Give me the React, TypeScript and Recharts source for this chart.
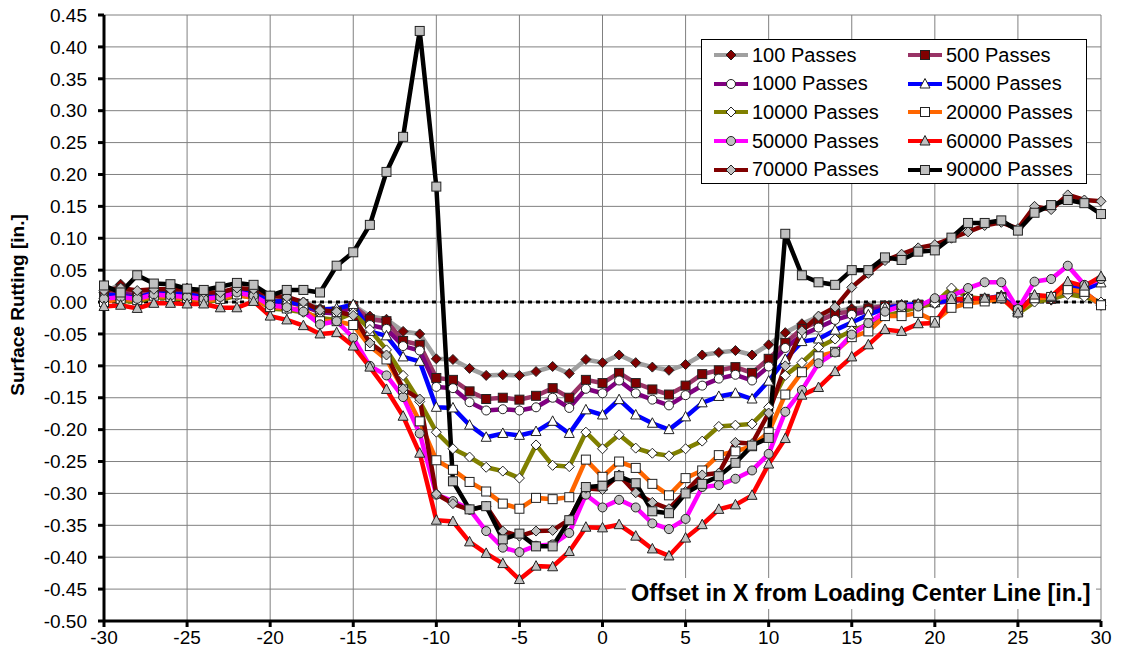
import { LineChart, Line, XAxis, YAxis, CartesianGrid, ReferenceLine } from 'recharts';

// Offset positions along X [in.]
const offsets = [
  -30, -29, -28, -27, -26, -25, -24, -23, -22, -21, -20, -19, -18, -17, -16,
  -15, -14, -13, -12, -11, -10, -9, -8, -7, -6, -5, -4, -3, -2, -1,
  0, 1, 2, 3, 4, 5, 6, 7, 8, 9, 10, 11, 12, 13, 14,
  15, 16, 17, 18, 19, 20, 21, 22, 23, 24, 25, 26, 27, 28, 29, 30,
];

// Surface rutting [in.] per pass count
const passes100 = [
  0.015, 0.028, 0.012, 0.02, 0.016, 0.022, 0.012, 0.014, 0.022, 0.015, 0.002, 0.005, 0.0, -0.01, -0.012,
  -0.005, -0.022, -0.027, -0.046, -0.05, -0.089, -0.09, -0.104, -0.115, -0.114, -0.115, -0.109, -0.101, -0.112, -0.09,
  -0.095, -0.083, -0.095, -0.102, -0.107, -0.098, -0.083, -0.079, -0.076, -0.083, -0.067, -0.048, -0.034, -0.023, -0.015,
  -0.01, -0.008, -0.005, -0.004, -0.003, 0.0, 0.002, 0.004, 0.004, 0.006, -0.012, 0.004, 0.003, 0.014, 0.012, -0.005,
];
const passes500 = [
  0.01, 0.02, 0.01, 0.015, 0.012, 0.018, 0.01, 0.012, 0.02, 0.013, 0.0, 0.003, -0.003, -0.013, -0.015,
  -0.006, -0.027, -0.03, -0.061, -0.067, -0.119, -0.122, -0.14, -0.152, -0.15, -0.153, -0.147, -0.135, -0.15, -0.122,
  -0.127, -0.111, -0.127, -0.137, -0.145, -0.131, -0.113, -0.107, -0.102, -0.111, -0.089, -0.064, -0.042, -0.03, -0.018,
  -0.015, -0.01, -0.006, -0.006, -0.004, 0.0, 0.003, 0.005, 0.005, 0.008, -0.013, 0.006, 0.005, 0.018, 0.014, -0.003,
];
const passes1000 = [
  0.008, 0.015, 0.008, 0.012, 0.01, 0.015, 0.008, 0.01, 0.018, 0.01, -0.002, 0.0, -0.006, -0.016, -0.018,
  -0.008, -0.036, -0.042, -0.069, -0.076, -0.133, -0.135, -0.157, -0.17, -0.168, -0.17, -0.165, -0.15, -0.166, -0.136,
  -0.143, -0.123, -0.143, -0.153, -0.162, -0.146, -0.131, -0.12, -0.114, -0.123, -0.101, -0.072, -0.052, -0.04, -0.028,
  -0.02, -0.014, -0.008, -0.008, -0.006, -0.002, 0.002, 0.004, 0.004, 0.007, -0.014, 0.006, 0.006, 0.02, 0.016, -0.005,
];
const passes5000 = [
  0.012, 0.01, 0.006, 0.015, 0.014, 0.012, 0.008, 0.01, 0.02, 0.016, 0.0, 0.002, -0.005, -0.012, -0.01,
  -0.004, -0.046, -0.053, -0.086, -0.093, -0.165, -0.166, -0.193, -0.212, -0.206, -0.209, -0.203, -0.187, -0.206, -0.169,
  -0.177, -0.153, -0.177, -0.19, -0.2, -0.18, -0.158, -0.148, -0.143, -0.152, -0.124, -0.09, -0.062, -0.058, -0.044,
  -0.032, -0.02, -0.01, -0.005, -0.003, -0.001, 0.004, 0.006, 0.005, 0.01, -0.015, 0.01, 0.008, 0.025, 0.02, 0.03,
];
const passes10000 = [
  0.005, 0.002, 0.0, 0.008, 0.005, 0.005, 0.0, 0.003, 0.01, 0.008, -0.01, -0.012, -0.016, -0.025, -0.028,
  -0.017, -0.043, -0.075, -0.115, -0.156, -0.204, -0.23, -0.243, -0.259, -0.265, -0.276, -0.224, -0.256, -0.258, -0.204,
  -0.23, -0.208, -0.229, -0.237, -0.241, -0.23, -0.218, -0.195, -0.193, -0.191, -0.165, -0.115, -0.095, -0.071, -0.058,
  -0.045, -0.035, -0.022, -0.015, -0.008, -0.002, 0.022, 0.008, 0.005, 0.008, -0.018, 0.0, 0.005, 0.012, 0.008, 0.0,
];
const passes20000 = [
  0.0, 0.005, 0.003, 0.01, 0.008, 0.006, 0.002, 0.005, 0.012, 0.006, -0.008, -0.01, -0.012, -0.03, -0.03,
  -0.036, -0.069, -0.09, -0.137, -0.187, -0.248, -0.263, -0.282, -0.297, -0.316, -0.324, -0.307, -0.309, -0.306, -0.247,
  -0.274, -0.25, -0.26, -0.285, -0.303, -0.276, -0.264, -0.24, -0.234, -0.226, -0.204, -0.145, -0.11, -0.085, -0.078,
  -0.055, -0.046, -0.022, -0.022, -0.017, -0.03, -0.009, -0.002, 0.001, 0.006, -0.015, 0.006, 0.008, 0.02, 0.016, -0.005,
];
const passes50000 = [
  0.005, 0.008, 0.005, 0.012, 0.01, 0.008, 0.005, 0.008, 0.015, 0.01, -0.005, -0.008, -0.015, -0.035, -0.03,
  -0.056, -0.1, -0.115, -0.149, -0.206, -0.302, -0.312, -0.325, -0.359, -0.385, -0.392, -0.382, -0.38, -0.362, -0.302,
  -0.322, -0.31, -0.322, -0.347, -0.356, -0.34, -0.29, -0.287, -0.277, -0.264, -0.238, -0.172, -0.138, -0.096, -0.079,
  -0.051, -0.033, -0.015, -0.006, -0.007, 0.006, 0.009, 0.022, 0.031, 0.031, -0.011, 0.032, 0.036, 0.057, 0.027, 0.036,
];
const passes60000 = [
  -0.007, -0.005, -0.01, -0.002, -0.002, -0.003, -0.003, -0.009, -0.009, 0.001, -0.022, -0.028, -0.037, -0.05, -0.048,
  -0.069, -0.102, -0.137, -0.179, -0.237, -0.342, -0.344, -0.376, -0.394, -0.41, -0.435, -0.414, -0.415, -0.391, -0.353,
  -0.354, -0.349, -0.367, -0.387, -0.398, -0.37, -0.349, -0.325, -0.318, -0.303, -0.254, -0.214, -0.146, -0.134, -0.109,
  -0.086, -0.067, -0.043, -0.046, -0.034, -0.033, 0.004, 0.005, 0.006, 0.008, -0.017, 0.011, 0.009, 0.032, 0.025, 0.04,
];
const passes70000 = [
  0.018, 0.022, 0.018, 0.02, 0.02, 0.02, 0.015, 0.015, 0.022, 0.02, 0.01, 0.008, 0.0, -0.013, -0.015,
  -0.021, -0.064, -0.083, -0.136, -0.152, -0.301, -0.316, -0.326, -0.32, -0.359, -0.367, -0.359, -0.358, -0.341, -0.292,
  -0.294, -0.271, -0.299, -0.314, -0.324, -0.297, -0.271, -0.268, -0.22, -0.222, -0.174, -0.1, -0.045, -0.022, -0.008,
  0.023, 0.045, 0.065, 0.075, 0.085, 0.09, 0.1, 0.11, 0.12, 0.125, 0.115, 0.15, 0.145, 0.168, 0.16, 0.158,
];
const passes90000 = [
  0.026, 0.015, 0.042, 0.029, 0.028, 0.021, 0.019, 0.024, 0.03, 0.027, 0.01, 0.019, 0.019, 0.015, 0.057,
  0.078, 0.121, 0.204, 0.259, 0.425, 0.181, -0.281, -0.325, -0.32, -0.372, -0.363, -0.383, -0.383, -0.342, -0.29,
  -0.288, -0.273, -0.284, -0.328, -0.331, -0.3, -0.285, -0.273, -0.252, -0.225, -0.213, 0.107, 0.042, 0.031, 0.027,
  0.05, 0.05, 0.07, 0.066, 0.079, 0.081, 0.101, 0.124, 0.124, 0.128, 0.112, 0.14, 0.152, 0.16, 0.155, 0.138,
];

const xTicks = [-30, -25, -20, -15, -10, -5, 0, 5, 10, 15, 20, 25, 30];
const yTicks = [
  -0.5, -0.45, -0.4, -0.35, -0.3, -0.25, -0.2, -0.15, -0.1, -0.05,
  0, 0.05, 0.1, 0.15, 0.2, 0.25, 0.3, 0.35, 0.4, 0.45,
];

type Shape = 'diamond' | 'square' | 'circle' | 'triangle';

const series: { key: string; name: string; values: number[]; color: string; shape: Shape; fill: string }[] = [
  { key: 'p100', name: '100 Passes', values: passes100, color: '#A0A0A0', shape: 'diamond', fill: '#800000' },
  { key: 'p500', name: '500 Passes', values: passes500, color: '#993366', shape: 'square', fill: '#800000' },
  { key: 'p1000', name: '1000 Passes', values: passes1000, color: '#800080', shape: 'circle', fill: '#FFFFFF' },
  { key: 'p5000', name: '5000 Passes', values: passes5000, color: '#0000FF', shape: 'triangle', fill: '#FFFFFF' },
  { key: 'p10000', name: '10000 Passes', values: passes10000, color: '#808000', shape: 'diamond', fill: '#FFFFFF' },
  { key: 'p20000', name: '20000 Passes', values: passes20000, color: '#FF6600', shape: 'square', fill: '#FFFFFF' },
  { key: 'p50000', name: '50000 Passes', values: passes50000, color: '#FF00FF', shape: 'circle', fill: '#C0C0C0' },
  { key: 'p60000', name: '60000 Passes', values: passes60000, color: '#FF0000', shape: 'triangle', fill: '#C0C0C0' },
  { key: 'p70000', name: '70000 Passes', values: passes70000, color: '#800000', shape: 'diamond', fill: '#C0C0C0' },
  { key: 'p90000', name: '90000 Passes', values: passes90000, color: '#000000', shape: 'square', fill: '#C0C0C0' },
];

const chartData = offsets.map((x, i) => {
  const row: Record<string, number> = { x };
  series.forEach((s) => {
    row[s.key] = s.values[i];
  });
  return row;
});

const FONT = '"Liberation Sans", Arial, sans-serif';

// marker glyph, used both on the lines and in the legend
const Marker = ({ cx, cy, shape, fill }: { cx: number; cy: number; shape: Shape; fill: string }) => {
  const stroke = '#222';
  if (shape === 'diamond') {
    return <polygon points={`${cx},${cy - 5} ${cx + 5},${cy} ${cx},${cy + 5} ${cx - 5},${cy}`} fill={fill} stroke={stroke} strokeWidth={1} />;
  }
  if (shape === 'square') {
    return <rect x={cx - 4.5} y={cy - 4.5} width={9} height={9} fill={fill} stroke={stroke} strokeWidth={1} />;
  }
  if (shape === 'circle') {
    return <circle cx={cx} cy={cy} r={4.5} fill={fill} stroke={stroke} strokeWidth={1} />;
  }
  return <polygon points={`${cx},${cy - 5.5} ${cx + 5},${cy + 4} ${cx - 5},${cy + 4}`} fill={fill} stroke={stroke} strokeWidth={1} />;
};

const LegendBox = () => (
  <div
    style={{
      position: 'absolute', left: 701, top: 39, width: 384, height: 143,
      background: '#fff', border: '1px solid #000', fontFamily: FONT, fontSize: 20,
    }}
  >
    {series.map((s, i) => {
      const col = i % 2;
      const row = Math.floor(i / 2);
      return (
        <div
          key={s.key}
          style={{ position: 'absolute', left: col === 0 ? 11 : 205, top: 1 + row * 28.7, height: 28, display: 'flex', alignItems: 'center', whiteSpace: 'nowrap' }}
        >
          <svg width={36} height={14} style={{ marginRight: 3 }}>
            <line x1={1} y1={7} x2={35} y2={7} stroke={s.color} strokeWidth={4} />
            <Marker cx={18} cy={7} shape={s.shape} fill={s.fill} />
          </svg>
          <span>{s.name}</span>
        </div>
      );
    })}
  </div>
);

export default function App() {
  return (
    <div style={{ position: 'absolute', left: 0, top: 0, width: 1121, height: 663, background: '#fff', fontFamily: FONT }}>
      <LineChart width={1121} height={663} data={chartData} margin={{ top: 15, right: 20, bottom: 12, left: 0 }}>
        <CartesianGrid stroke="#808080" strokeWidth={1} />
        <XAxis
          dataKey="x"
          type="number"
          domain={[-30, 30]}
          ticks={xTicks}
          height={30}
          tickSize={6}
          tickMargin={4}
          tick={{ fill: '#000', fontSize: 19, fontFamily: FONT }}
          axisLine={{ stroke: '#000', strokeWidth: 3 }}
          tickLine={{ stroke: '#000', strokeWidth: 3 }}
        />
        <YAxis
          type="number"
          domain={[-0.5, 0.45]}
          ticks={yTicks}
          width={104}
          tickSize={6}
          tickMargin={11}
          tickFormatter={(v: number) => v.toFixed(2)}
          tick={{ fill: '#000', fontSize: 19, fontFamily: FONT }}
          axisLine={{ stroke: '#000', strokeWidth: 3 }}
          tickLine={{ stroke: '#000', strokeWidth: 3 }}
          allowDataOverflow
        />
        <ReferenceLine y={0} stroke="#000" strokeWidth={3} strokeDasharray="4 4" />
        {series.map((s) => (
          <Line
            key={s.key}
            dataKey={s.key}
            name={s.name}
            stroke={s.color}
            strokeWidth={4.5}
            isAnimationActive={false}
            dot={(props: any) => (
              <Marker key={`${s.key}-${props.index}`} cx={props.cx} cy={props.cy} shape={s.shape} fill={s.fill} />
            )}
            activeDot={false}
          />
        ))}
      </LineChart>
      <LegendBox />
      <div
        style={{
          position: 'absolute', left: 18, top: 305, transform: 'translate(-50%, -50%) rotate(-90deg)',
          fontWeight: 'bold', fontSize: 19, whiteSpace: 'nowrap',
        }}
      >
        Surface Rutting [in.]
      </div>
      <div
        style={{
          position: 'absolute', left: 626, top: 578, padding: '2px 5px', background: '#fff',
          fontWeight: 'bold', fontSize: 23.5, lineHeight: '27px', whiteSpace: 'nowrap',
        }}
      >
        Offset in X from Loading Center Line [in.]
      </div>
    </div>
  );
}
